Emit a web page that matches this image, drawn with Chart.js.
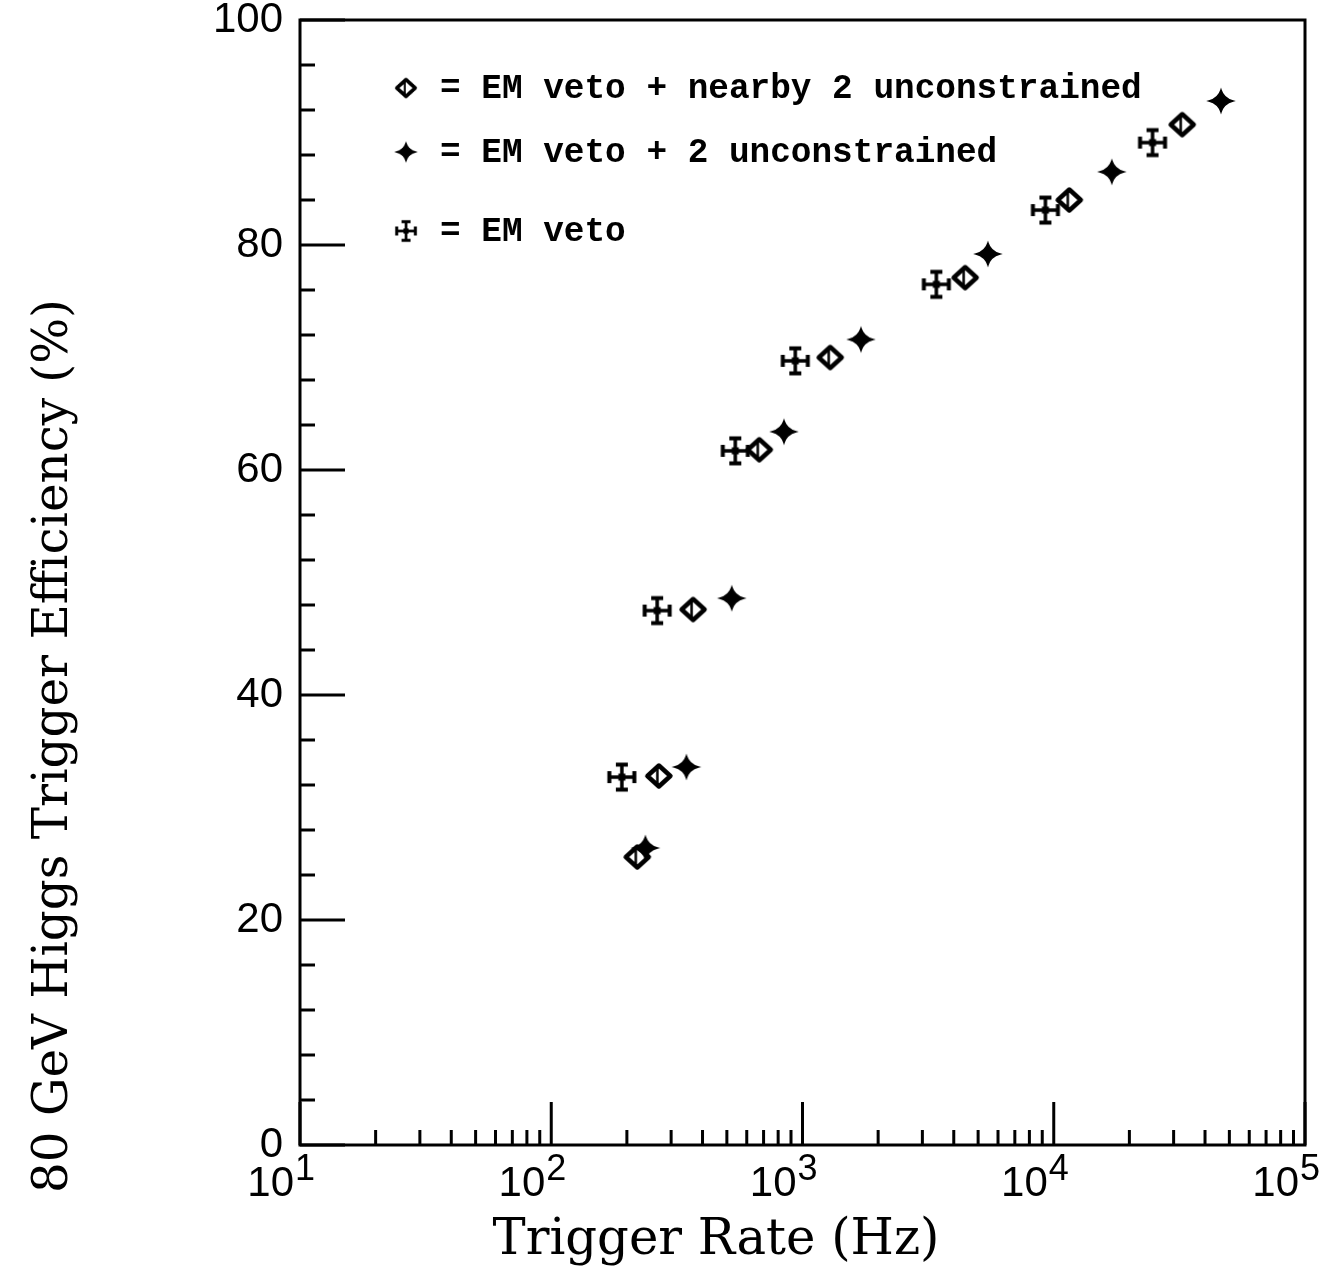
<!DOCTYPE html>
<html>
<head>
<meta charset="utf-8">
<script src="https://cdn.jsdelivr.net/npm/chart.js@4"></script>
<style>
  html, body { margin: 0; padding: 0; background: #fff; }
  canvas { display: block; }
</style>
</head>
<body>
<canvas id="chart" width="1336" height="1268"></canvas>
<script>
// rates (Hz) and efficiencies (%)
const emVetoRate = [191, 264, 540, 936, 3410, 9265, 24730];
const emVetoEff = [32.7, 47.5, 61.7, 69.7, 76.5, 83.1, 89.1];

const nearbyRate = [220, 268, 367, 673, 1289, 4441, 11530, 32460];
const nearbyEff = [25.6, 32.8, 47.6, 61.8, 70.0, 77.1, 84.0, 90.7];

const twoUncRate = [237, 345, 523, 844, 1709, 5470, 17030, 46300];
const twoUncEff = [26.4, 33.6, 48.6, 63.4, 71.6, 79.2, 86.5, 92.8];

const legendLabels = [
    '= EM veto + nearby 2 unconstrained',
    '= EM veto + 2 unconstrained',
    '= EM veto',
];

const yMajorTicks = [0, 20, 40, 60, 80, 100];
const yMinorTicks = [4, 8, 12, 16, 24, 28, 32, 36, 44, 48, 52, 56, 64, 68, 72, 76, 84, 88, 92, 96];
const xDecades = [1, 2, 3, 4, 5];

const xTitle = 'Trigger Rate (Hz)';
const yTitle = '80 GeV Higgs Trigger Efficiency (%)';

function markerCanvas(draw) {
    const c = document.createElement('canvas');
    c.width = 40;
    c.height = 40;
    const g = c.getContext('2d');
    g.translate(20, 20);
    g.strokeStyle = '#000';
    g.fillStyle = '#000';
    g.lineCap = 'butt';
    draw(g);
    return c;
}

const diamondMark = markerCanvas((g) => {
    g.lineWidth = 4.5;
    g.lineJoin = 'round';
    g.beginPath();
    g.moveTo(0, -10.5);
    g.lineTo(11.5, 0);
    g.lineTo(0, 10.5);
    g.lineTo(-11.5, 0);
    g.closePath();
    g.stroke();
    g.lineWidth = 2.5;
    g.beginPath();
    g.moveTo(-1.5, -8);
    g.lineTo(-1.5, 8);
    g.stroke();
});

const starMark = markerCanvas((g) => {
    g.beginPath();
    g.moveTo(0, -11);
    g.quadraticCurveTo(2.6, -2.6, 12, 0);
    g.quadraticCurveTo(2.6, 2.6, 0, 11);
    g.quadraticCurveTo(-2.6, 2.6, -12, 0);
    g.quadraticCurveTo(-2.6, -2.6, 0, -11);
    g.closePath();
    g.fill();
    g.lineWidth = 1.5;
    g.stroke();
    g.beginPath();
    g.arc(0, 0, 4.2, 0, Math.PI * 2);
    g.fill();
});

const errorMark = markerCanvas((g) => {
    g.lineWidth = 3.5;
    g.beginPath();
    g.moveTo(-12.5, 0);
    g.lineTo(12.5, 0);
    g.moveTo(0, -12.5);
    g.lineTo(0, 12.5);
    g.stroke();
    g.lineWidth = 4;
    g.beginPath();
    g.moveTo(-12.5, -6);
    g.lineTo(-12.5, 6);
    g.moveTo(12.5, -6);
    g.lineTo(12.5, 6);
    g.moveTo(-6, -12.5);
    g.lineTo(6, -12.5);
    g.moveTo(-6, 12.5);
    g.lineTo(6, 12.5);
    g.stroke();
    g.fillRect(-3.5, -3.5, 7, 7);
});

const legendMarks = [diamondMark, starMark, errorMark];
const legendScale = [0.8, 0.8, 0.75];

function toPoints(xs, ys) {
    return xs.map((x, i) => ({ x, y: ys[i] }));
}

function fitFont(ctx, text, family, weight, base, target) {
    ctx.font = `${weight} ${base}px ${family}`;
    const w = ctx.measureText(text).width;
    const size = Math.round(base * target / w * 10) / 10;
    return `${weight} ${size}px ${family}`;
}

const framePlugin = {
    id: 'frame',
    afterDraw(chart) {
        const { ctx, chartArea: a, scales } = chart;
        const xs = scales.x;
        const ys = scales.y;
        ctx.save();
        ctx.strokeStyle = '#000';
        ctx.fillStyle = '#000';

        // box
        ctx.lineWidth = 3;
        ctx.strokeRect(a.left, a.top, a.right - a.left, a.bottom - a.top);

        // y ticks, pointing inward
        ctx.lineWidth = 3;
        ctx.beginPath();
        yMajorTicks.forEach((v) => {
            const py = ys.getPixelForValue(v);
            ctx.moveTo(a.left, py);
            ctx.lineTo(a.left + 45, py);
        });
        yMinorTicks.forEach((v) => {
            const py = ys.getPixelForValue(v);
            ctx.moveTo(a.left, py);
            ctx.lineTo(a.left + 15, py);
        });
        ctx.stroke();

        // x ticks, pointing inward
        ctx.beginPath();
        xDecades.forEach((e) => {
            const px = xs.getPixelForValue(10 ** e);
            ctx.moveTo(px, a.bottom);
            ctx.lineTo(px, a.bottom - 43);
            if (e < 5) {
                for (let m = 2; m <= 9; m++) {
                    const pm = xs.getPixelForValue(m * 10 ** e);
                    ctx.moveTo(pm, a.bottom);
                    ctx.lineTo(pm, a.bottom - 15);
                }
            }
        });
        ctx.stroke();

        // x tick labels 10^n
        ctx.textBaseline = 'alphabetic';
        xDecades.forEach((e) => {
            const px = xs.getPixelForValue(10 ** e);
            ctx.font = '42px "Liberation Sans"';
            ctx.textAlign = 'right';
            ctx.fillText('10', px - 6, 1196);
            ctx.font = '36px "Liberation Sans"';
            ctx.textAlign = 'left';
            ctx.fillText(String(e), px - 5, 1180);
        });

        // axis titles
        ctx.font = fitFont(ctx, xTitle, '"DejaVu Serif"', 'normal', 46, 447);
        ctx.textAlign = 'center';
        ctx.fillText(xTitle, 716, 1254);

        ctx.save();
        ctx.translate(67, 746);
        ctx.rotate(-Math.PI / 2);
        ctx.font = fitFont(ctx, yTitle, '"DejaVu Serif"', 'normal', 46, 893);
        ctx.fillText(yTitle, 0, 0);
        ctx.restore();

        // legend
        const rows = [88, 152, 231];
        ctx.font = fitFont(ctx, legendLabels[0], '"Liberation Mono"', 'bold', 34, 702);
        ctx.textAlign = 'left';
        ctx.textBaseline = 'middle';
        legendLabels.forEach((label, i) => {
            const m = legendMarks[i];
            const w = m.width * legendScale[i];
            const h = m.height * legendScale[i];
            ctx.drawImage(m, 406 - w / 2, rows[i] - h / 2, w, h);
            ctx.fillText(label, 440, rows[i] + 1);
        });

        ctx.restore();
    },
};

new Chart(document.getElementById('chart'), {
    type: 'scatter',
    data: {
        datasets: [
            {
                label: legendLabels[0],
                data: toPoints(nearbyRate, nearbyEff),
                pointStyle: diamondMark,
            },
            {
                label: legendLabels[1],
                data: toPoints(twoUncRate, twoUncEff),
                pointStyle: starMark,
            },
            {
                label: legendLabels[2],
                data: toPoints(emVetoRate, emVetoEff),
                pointStyle: errorMark,
            },
        ],
    },
    options: {
        responsive: false,
        animation: false,
        devicePixelRatio: 1,
        layout: { padding: { top: 20, right: 31, left: 0, bottom: 0 } },
        plugins: {
            legend: { display: false },
            tooltip: { enabled: false },
        },
        scales: {
            x: {
                type: 'logarithmic',
                min: 10,
                max: 100000,
                grid: { display: false },
                border: { display: false },
                ticks: { display: false },
                afterFit: (s) => {
                    s.height = 123;
                    s.paddingLeft = 0;
                    s.paddingRight = 0;
                },
            },
            y: {
                min: 0,
                max: 100,
                grid: { display: false },
                border: { display: false },
                ticks: {
                    stepSize: 20,
                    padding: 9,
                    color: '#000',
                    font: { family: '"Liberation Sans"', size: 42 },
                },
                afterFit: (s) => {
                    s.width = 300;
                    s.paddingTop = 0;
                    s.paddingBottom = 0;
                },
            },
        },
    },
    plugins: [framePlugin],
});
</script>
</body>
</html>
